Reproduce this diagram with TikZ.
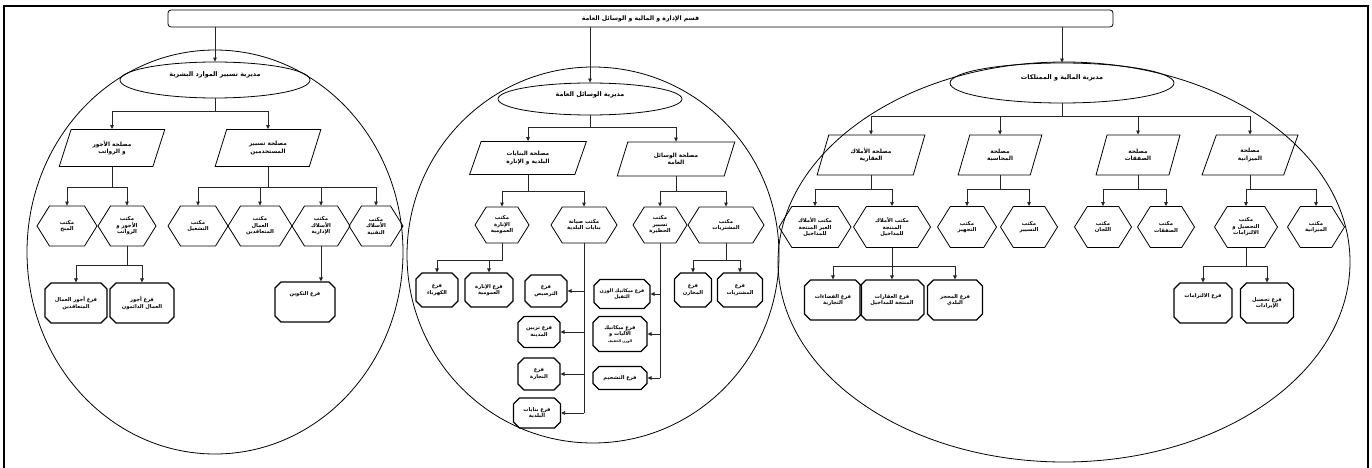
\documentclass[tikz,border=0pt]{standalone}
\usepackage{fontspec}
\usetikzlibrary{shapes.geometric,shapes.misc,shapes.symbols,arrows.meta}
\newfontfamily\arfont[Script=Arabic]{DejaVu Sans}
\TeXXeTstate=1
\newcommand\artxt[1]{\leavevmode\beginR #1\endR}
\newcommand\uptxt[2]{\raisebox{#1}[\height][\depth]{#2}}
\tikzset{
  ln/.style={draw=black!85, line width=0.8pt},
  arr/.style={ln, -{Triangle[length=4pt,width=3.6pt]}},
  topbar/.style={draw, rounded corners=3pt, line width=0.8pt, minimum width=945pt, minimum height=17pt, inner sep=0pt,
     font=\arfont\bfseries\fontsize{6.2}{7}\selectfont},
  dirshape/.style={ellipse, draw, line width=0.8pt, inner sep=0pt, font=\arfont\bfseries\fontsize{6.4}{7}\selectfont},
  serv/.style={trapezium, trapezium left angle=70, trapezium right angle=110, trapezium stretches=true,
     draw, line width=0.8pt, inner sep=1pt, align=center, minimum width=#1, minimum height=37pt,
     font=\arfont\bfseries\fontsize{5.8}{7.4}\selectfont},
  office/.style={signal, signal to=east and west, signal pointer angle=116, draw, line width=0.8pt,
     inner sep=0pt, align=center, minimum width=#1, minimum height=40pt,
     font=\arfont\bfseries\fontsize{5.3}{6.5}\selectfont},
  branch/.style={chamfered rectangle, chamfered rectangle xsep=3pt, chamfered rectangle ysep=3pt,
     draw, line width=1.1pt, inner sep=1pt, align=center, minimum width=#1,
     font=\arfont\bfseries\fontsize{5.2}{6.5}\selectfont},
}
\begin{document}
\begin{tikzpicture}[x=1pt,y=-1pt]
\useasboundingbox (0,0) rectangle (1372,468);
\fill[white] (0,0) rectangle (1372,468);
\draw[line width=1.6pt] (4,470) -- (4,6) -- (1368,6) -- (1368,470);
% department circles
\draw[line width=0.8pt] (215,252) ellipse [x radius=188, y radius=202];
\draw[line width=0.8pt] (593,255) ellipse [x radius=186, y radius=188];
\draw[line width=0.8pt] (1064,262) ellipse [x radius=286, y radius=200];

\node[topbar] (top) at (640.5,18.5) {\artxt{قسم الإدارة و المالية و الوسائل العامة}};

% ---------------- left: human resources
\node[dirshape, minimum width=190pt, minimum height=36pt] (E1) at (215,80) {\uptxt{5pt}{\artxt{مديرية تسيير الموارد البشرية}}};
\draw[arr] (top.south -| E1.north) -- (E1.north);
\node[serv=106pt] (P1a) at (112,148) {\artxt{مصلحة الأجور}\\\artxt{و الرواتب}};
\node[serv=106pt] (P1b) at (268,148) {\artxt{مصلحة تسيير}\\\artxt{المستخدمين}};
\draw[arr] (E1.south) -- ++(0,13) -| (P1a.north);
\draw[arr] (E1.south) -- ++(0,13) -| (P1b.north);

\node[office=60pt] (H1) at (67,226) {\artxt{مكتب}\\\artxt{المنح}};
\node[office=58pt] (H2) at (127,226) {\artxt{مكتب}\\\artxt{الأجور و}\\\artxt{الرواتب}};
\node[office=60pt] (H3) at (198,226) {\artxt{مكتب}\\\artxt{التشغيل}};
\node[office=64pt] (H4) at (260,226) {\artxt{مكتب}\\\artxt{العمال}\\\artxt{المتعاقدين}};
\node[office=58pt] (H5) at (321,226) {\artxt{مكتب}\\\artxt{الأسلاك}\\\artxt{الإدارية}};
\node[office=54pt] (H6) at (376,226) {\artxt{مكتب}\\\artxt{الأسلاك}\\\artxt{التقنية}};
\foreach \h in {H1,H2} \draw[arr] (P1a.south) -- ++(0,20) -| (\h.north);
\foreach \h in {H3,H4,H5,H6} \draw[arr] (P1b.south) -- ++(0,20) -| (\h.north);

\node[branch=62pt, minimum height=40pt] (B1) at (76,303) {\artxt{فرع أجور العمال}\\\artxt{المتعاقدين}};
\node[branch=64pt, minimum height=40pt] (B2) at (142,303) {\artxt{فرع أجور}\\\artxt{العمال الدائمون}};
\node[branch=60pt, minimum height=40pt] (B3) at (305,302) {\uptxt{8pt}{\artxt{فرع التكوين}}};
\draw[arr] (H2.south) -- ++(0,19) -| (B1.north);
\draw[arr] (H2.south) -- ++(0,19) -| (B2.north);
\draw[arr] (H5.south) -- (H5.south |- B3.north);

% ---------------- middle: general means
\node[dirshape, minimum width=184pt, minimum height=32pt] (E2) at (590,99) {\uptxt{4pt}{\artxt{مديرية الوسائل العامة}}};
\draw[arr] (top.south -| E2.north) -- (E2.north);
\node[serv=117pt, minimum height=33pt] (P2a) at (528,158) {\artxt{مصلحة البنايات}\\\artxt{البلدية و الإنارة}};
\node[serv=118pt, minimum height=34pt] (P2b) at (676,159) {\artxt{مصلحة الوسائل}\\\artxt{العامة}};
\draw[arr] (E2.south) -- ++(0,12) -| (P2a.north);
\draw[arr] (E2.south) -- ++(0,12) -| (P2b.north);

\node[office=54pt, minimum height=36pt] (M1) at (502,225) {\artxt{مكتب}\\\artxt{الإنارة}\\\artxt{العمومية}};
\node[office=66pt, minimum height=36pt] (M2) at (584,225) {\artxt{مكتب صيانة}\\\artxt{بنايات البلدية}};
\node[office=54pt, minimum height=36pt] (M3) at (660,225) {\artxt{مكتب}\\\artxt{تسيير}\\\artxt{الحظيرة}};
\node[office=76pt, minimum height=36pt] (M4) at (726,225) {\artxt{مكتب}\\\artxt{المشتريات}};
\draw[arr] (P2a.south) -- ++(0,16) -| (M1.north);
\draw[arr] (P2a.south) -- ++(0,16) -| (M2.north);
\draw[arr] (P2b.south) -- ++(0,15) -| (M3.north);
\draw[arr] (P2b.south) -- ++(0,15) -| (M4.north);

\node[branch=42pt, minimum height=34pt] (MB1) at (437,290) {\artxt{فرع}\\\artxt{الكهرباء}};
\node[branch=48pt, minimum height=34pt] (MB2) at (489,290) {\artxt{فرع الإنارة}\\\artxt{العمومية}};
\draw[arr] (M1.south) -- ++(0,17) -| (MB1.north);
\draw[arr] (M1.south) -- ++(0,17) -| (MB2.north);

\node[branch=42pt, minimum height=32pt] (MB3) at (546,291) {\artxt{فرع}\\\artxt{الترصيص}};
\node[branch=42pt, minimum height=31pt] (MB4) at (539,332) {\artxt{فرع تزيين}\\\artxt{المدينة}};
\node[branch=42pt, minimum height=32pt] (MB5) at (539,374) {\artxt{فرع}\\\artxt{النجارة}};
\node[branch=47pt, minimum height=30pt] (MB6) at (537,413) {\artxt{فرع بنايات}\\\artxt{البلدية}};
\draw[ln] (M2.south) -- (M2.south |- MB6.east);
\foreach \b in {MB3,MB4,MB5,MB6} \draw[arr] (M2.south |- \b.east) -- (\b.east);

\node[branch=56pt, minimum height=29pt, font=\arfont\bfseries\fontsize{4.9}{6.3}\selectfont] (MB7) at (622,294) {\artxt{فرع ميكانيك الوزن}\\\artxt{الثقيل}};
\node[branch=54pt, minimum height=35pt] (MB8) at (620,334) {\artxt{فرع ميكانيك}\\\artxt{الآليات و}\\{\fontsize{3.5}{4}\selectfont\artxt{الوزن الخفيف}}};
\node[branch=54pt, minimum height=23pt] (MB9) at (620,378) {\artxt{فرع التشحيم}};
\draw[ln] (M3.south) -- (M3.south |- MB9.east);
\foreach \b in {MB7,MB8,MB9} \draw[arr] (M3.south |- \b.east) -- (\b.east);

\node[branch=37pt, minimum height=34pt] (MB10) at (693,290) {\artxt{فرع}\\\artxt{المخازن}};
\node[branch=45pt, minimum height=34pt] (MB11) at (740,290) {\artxt{فرع}\\\artxt{المشتريات}};
\draw[arr] (M4.south) -- ++(0,17) -| (MB10.north);
\draw[arr] (M4.south) -- ++(0,17) -| (MB11.north);

% ---------------- right: finance and property
\node[dirshape, minimum width=224pt, minimum height=40pt] (E3) at (1062,83) {\uptxt{5pt}{\artxt{مديرية المالية و الممتلكات}}};
\draw[arr] (top.south -| E3.north) -- (E3.north);
\node[serv=108pt, minimum height=40pt] (P3a) at (871,155) {\artxt{مصلحة الأملاك}\\\artxt{العقارية}};
\node[serv=84pt, minimum height=40pt] (P3b) at (1000,155) {\artxt{مصلحة}\\\artxt{المحاسبة}};
\node[serv=84pt, minimum height=40pt] (P3c) at (1138,155) {\artxt{مصلحة}\\\artxt{الصفقات}};
\node[serv=96pt, minimum height=40pt] (P3d) at (1250,155) {\artxt{مصلحة}\\\artxt{الميزانية}};
\foreach \p in {P3a,P3b,P3c,P3d} \draw[arr] (E3.south) -- ++(0,13) -| (\p.north);

\node[office=72pt, minimum height=41pt] (R1) at (815,227) {\artxt{مكتب الأملاك}\\\artxt{الغير المنتجة}\\\artxt{للمداخيل}};
\node[office=77pt, minimum height=41pt] (R2) at (892,227) {\artxt{مكتب الأملاك}\\\artxt{المنتجة}\\\artxt{للمداخيل}};
\node[office=59pt, minimum height=41pt] (R3) at (967,227) {\artxt{مكتب}\\\artxt{التجهيز}};
\node[office=57pt, minimum height=41pt] (R4) at (1029,227) {\artxt{مكتب}\\\artxt{التسيير}};
\node[office=57pt, minimum height=41pt] (R5) at (1103,227) {\artxt{مكتب}\\\artxt{اللجان}};
\node[office=57pt, minimum height=41pt] (R6) at (1166,227) {\artxt{مكتب}\\\artxt{الصفقات}};
\node[office=63pt, minimum height=41pt] (R7) at (1246,227) {\artxt{مكتب}\\\artxt{التحصيل و}\\\artxt{الالتزامات}};
\node[office=57pt, minimum height=41pt] (R8) at (1316,227) {\artxt{مكتب}\\\artxt{الميزانية}};
\draw[arr] (P3a.south) -- ++(0,14) -| (R1.north);
\draw[arr] (P3a.south) -- ++(0,14) -| (R2.north);
\draw[arr] (P3b.south) -- ++(0,14) -| (R3.north);
\draw[arr] (P3b.south) -- ++(0,14) -| (R4.north);
\draw[arr] (P3c.south) -- ++(0,14) -| (R5.north);
\draw[arr] (P3c.south) -- ++(0,14) -| (R6.north);
\draw[arr] (P3d.south) -- ++(0,14) -| (R7.north);
\draw[arr] (P3d.south) -- ++(0,14) -| (R8.north);

\node[branch=57pt, minimum height=40pt] (RB1) at (833,300) {\artxt{فرع الفضاءات}\\\artxt{التجارية}};
\node[branch=64pt, minimum height=40pt] (RB2) at (892,300) {\artxt{فرع العقارات}\\\artxt{المنتجة للمداخيل}};
\node[branch=55pt, minimum height=40pt] (RB3) at (955,300) {\artxt{فرع المحجز}\\\artxt{البلدي}};
\foreach \b in {RB1,RB2,RB3} \draw[arr] (R2.south) -- ++(0,18) -| (\b.north);

\node[branch=58pt, minimum height=40pt] (RB4) at (1203,303) {\uptxt{7pt}{\artxt{فرع الالتزامات}}};
\node[branch=53pt, minimum height=40pt] (RB5) at (1267,303) {\artxt{فرع تحصيل}\\\artxt{الإيرادات}};
\draw[arr] (R7.south) -- ++(0,18) -| (RB4.north);
\draw[arr] (R7.south) -- ++(0,18) -| (RB5.north);
\end{tikzpicture}
\end{document}
